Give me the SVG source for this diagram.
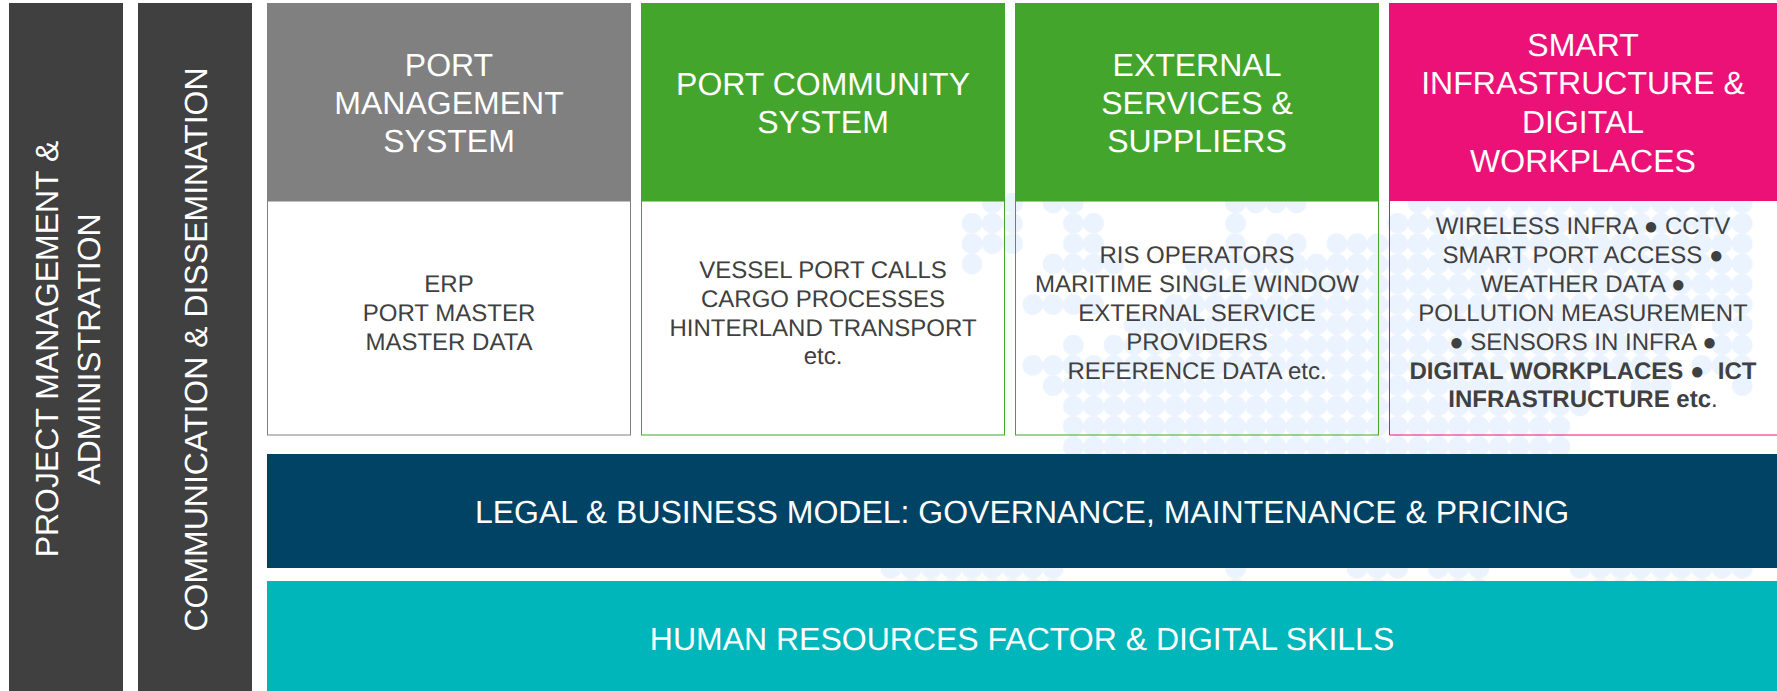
<svg xmlns="http://www.w3.org/2000/svg" width="1777" height="691" viewBox="0 0 1777 691">
<style>
text{font-family:"Liberation Sans",Arial,sans-serif;text-anchor:middle;text-rendering:geometricPrecision}
.h{font-size:32px;fill:#fff}
.b{font-size:24px;fill:#404040}
.s{font-weight:bold}
.bar{fill:#404040}
.body{fill:none;stroke-width:1}
</style>
<defs>
<pattern id="dot" patternUnits="userSpaceOnUse" width="1" height="1"><circle cx="0.5" cy="0.5" r="0.512" fill="#ebf3fe"/></pattern>
</defs>
<rect width="1777" height="691" fill="#fff"/>
<g id="dot-map" fill="url(#dot)" transform="translate(961.865,192.85) scale(20.27,20.3)">
<rect x="1" y="0" width="2" height="1"/><rect x="4" y="0" width="2" height="1"/><rect x="13" y="0" width="4" height="1"/><rect x="22" y="0" width="17" height="1"/>
<rect x="0" y="1" width="3" height="1"/><rect x="5" y="1" width="2" height="1"/><rect x="13" y="1" width="1" height="1"/><rect x="21" y="1" width="18" height="1"/>
<rect x="0" y="2" width="3" height="1"/><rect x="5" y="2" width="2" height="1"/><rect x="13" y="2" width="1" height="1"/><rect x="15" y="2" width="2" height="1"/><rect x="18" y="2" width="21" height="1"/>
<rect x="0" y="3" width="1" height="1"/><rect x="4" y="3" width="4" height="1"/><rect x="11" y="3" width="28" height="1"/>
<rect x="11" y="4" width="28" height="1"/>
<rect x="3" y="5" width="4" height="1"/><rect x="10" y="5" width="29" height="1"/>
<rect x="8" y="6" width="28" height="1"/><rect x="37" y="6" width="2" height="1"/>
<rect x="5" y="7" width="1" height="1"/><rect x="7" y="7" width="28" height="1"/><rect x="37" y="7" width="2" height="1"/>
<rect x="3" y="8" width="32" height="1"/><rect x="36" y="8" width="3" height="1"/>
<rect x="4" y="9" width="27" height="1"/><rect x="33" y="9" width="2" height="1"/><rect x="38" y="9" width="1" height="1"/>
<rect x="5" y="10" width="26" height="1"/>
<rect x="5" y="11" width="25" height="2"/>
<rect x="-4" y="18" width="9" height="1"/><rect x="13" y="18" width="1" height="1"/><rect x="19" y="18" width="3" height="1"/><rect x="23" y="18" width="3" height="1"/><rect x="30" y="18" width="9" height="1"/>
<rect x="-3" y="19" width="8" height="1"/><rect x="13" y="19" width="1" height="1"/><rect x="20" y="19" width="1" height="1"/><rect x="24" y="19" width="2" height="1"/><rect x="31" y="19" width="6" height="1"/>
</g>
<g id="project-management">
<rect class="bar" x="9" y="3" width="114" height="688"/>
<text class="h" transform="translate(58,349) rotate(-90)">PROJECT MANAGEMENT &amp;</text>
<text class="h" transform="translate(99.500,349) rotate(-90)">ADMINISTRATION</text>
</g>
<g id="communication">
<rect class="bar" x="138" y="3" width="114" height="688"/>
<text class="h" transform="translate(206.500,349.500) rotate(-90)">COMMUNICATION &amp; DISSEMINATION</text>
</g>
<g id="port-management">
<rect x="267" y="3" width="364" height="198" fill="#808080"/>
<rect class="body" x="267.500" y="201" width="363" height="234" stroke="#808080"/>
<text class="h" x="449" y="76">PORT</text>
<text class="h" x="449" y="114">MANAGEMENT</text>
<text class="h" x="449" y="152">SYSTEM</text>
<text class="b" x="449" y="292">ERP</text>
<text class="b" x="449" y="321">PORT MASTER</text>
<text class="b" x="449" y="350">MASTER DATA</text>
</g>
<g id="port-community">
<rect x="641" y="3" width="364" height="198" fill="#43a52b"/>
<rect class="body" x="641.500" y="201" width="363" height="234" stroke="#43a52b"/>
<text class="h" x="823" y="95">PORT COMMUNITY</text>
<text class="h" x="823" y="133">SYSTEM</text>
<text class="b" x="823" y="278">VESSEL PORT CALLS</text>
<text class="b" x="823" y="307">CARGO PROCESSES</text>
<text class="b" x="823" y="335.500">HINTERLAND TRANSPORT</text>
<text class="b" x="823" y="364">etc.</text>
</g>
<g id="external-services">
<rect x="1015" y="3" width="364" height="198" fill="#43a52b"/>
<rect class="body" x="1015.500" y="201" width="363" height="234" stroke="#43a52b"/>
<text class="h" x="1197" y="76">EXTERNAL</text>
<text class="h" x="1197" y="114">SERVICES &amp;</text>
<text class="h" x="1197" y="152">SUPPLIERS</text>
<text class="b" x="1197" y="263">RIS OPERATORS</text>
<text class="b" x="1197" y="292">MARITIME SINGLE WINDOW</text>
<text class="b" x="1197" y="321">EXTERNAL SERVICE</text>
<text class="b" x="1197" y="350">PROVIDERS</text>
<text class="b" x="1197" y="379">REFERENCE DATA etc.</text>
</g>
<g id="smart-infrastructure">
<rect x="1389" y="3" width="388" height="198" fill="#ec1177"/>
<path class="body" d="M1777 435H1389.500V201" stroke="#ec1177"/>
<text class="h" x="1583" y="56">SMART</text>
<text class="h" x="1583" y="94">INFRASTRUCTURE &amp;</text>
<text class="h" x="1583" y="132.500">DIGITAL</text>
<text class="h" x="1583" y="171.500">WORKPLACES</text>
<text class="b" x="1583" y="234">WIRELESS INFRA ● CCTV</text>
<text class="b" x="1583" y="263">SMART PORT ACCESS ●</text>
<text class="b" x="1583" y="292">WEATHER DATA ●</text>
<text class="b" x="1583" y="321">POLLUTION MEASUREMENT</text>
<text class="b" x="1583" y="350">● SENSORS IN INFRA ●</text>
<text class="b s" x="1583" y="379">DIGITAL WORKPLACES ●&#160; ICT</text>
<text class="b" x="1583" y="407"><tspan class="s">INFRASTRUCTURE etc</tspan>.</text>
</g>
<g id="legal-business">
<rect x="267" y="454" width="1510" height="114" fill="#004364"/>
<text class="h" x="1022" y="523">LEGAL &amp; BUSINESS MODEL: GOVERNANCE, MAINTENANCE &amp; PRICING</text>
</g>
<g id="human-resources">
<rect x="267" y="581" width="1510" height="110" fill="#00b6ba"/>
<text class="h" x="1022" y="650">HUMAN RESOURCES FACTOR &amp; DIGITAL SKILLS</text>
</g>
</svg>
